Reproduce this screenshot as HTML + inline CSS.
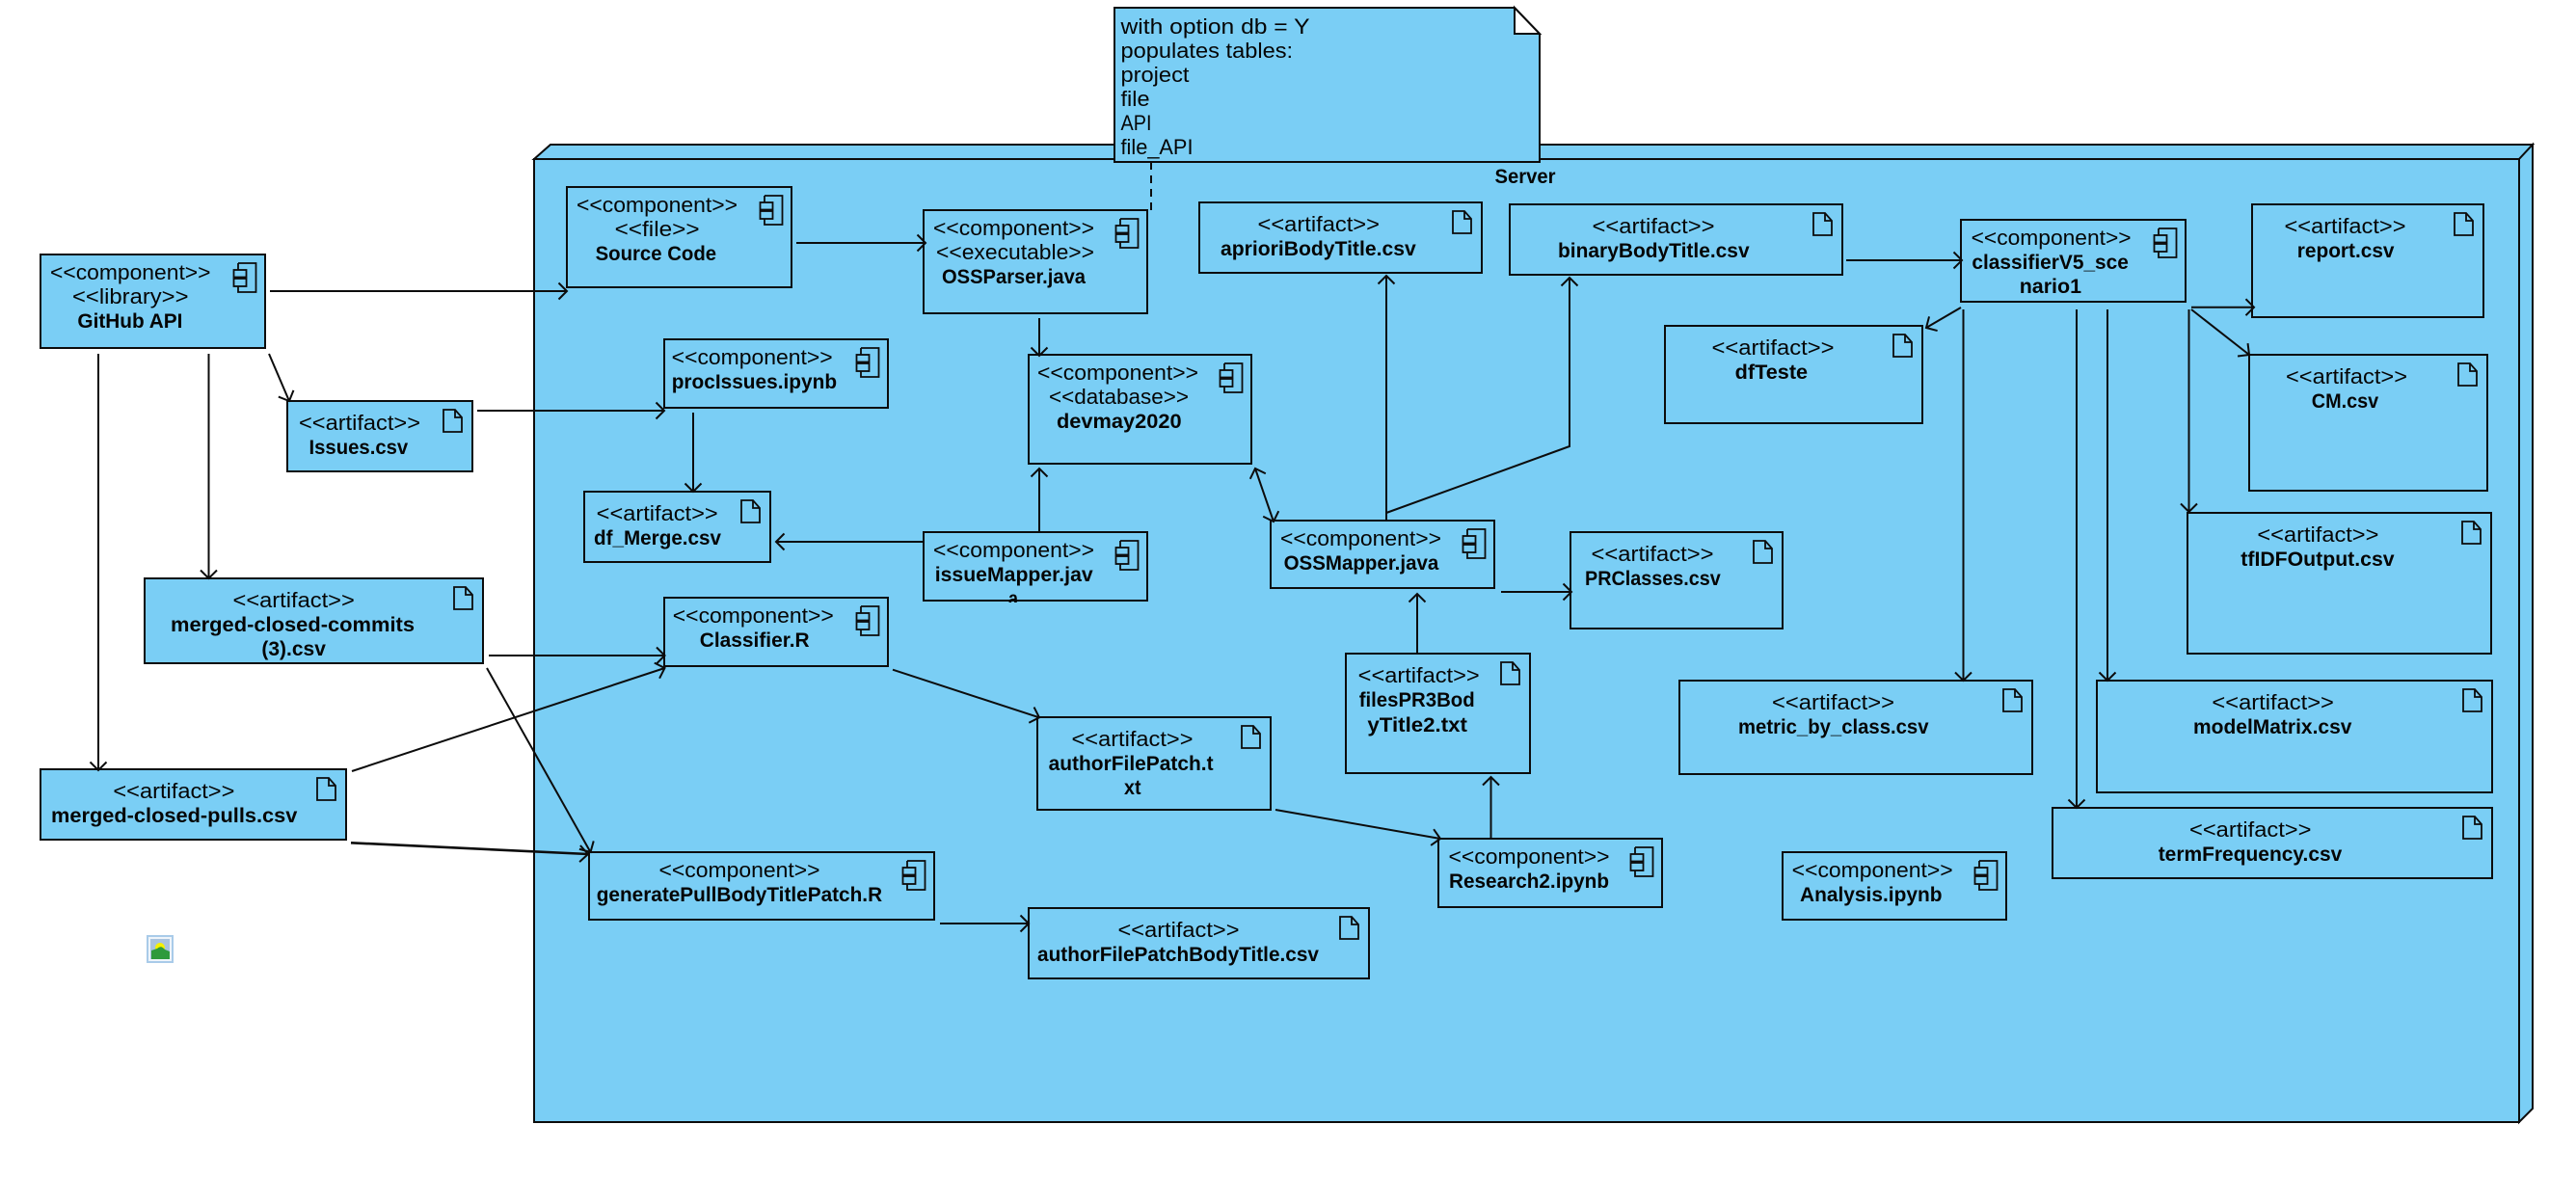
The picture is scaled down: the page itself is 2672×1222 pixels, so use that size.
<!DOCTYPE html>
<html>
<head>
<meta charset="utf-8">
<title>Deployment diagram</title>
<style>
html,body{margin:0;padding:0;background:#fff;width:2672px;height:1222px;overflow:hidden}
svg{display:block}
text{font-family:"Liberation Sans",sans-serif;font-size:22.5px;fill:#050505}
.b{font-weight:bold;font-size:21.5px}
.box{fill:#7acef5;stroke:#0c0c0c;stroke-width:2}
.ico{fill:none;stroke:#0c0c0c;stroke-width:1.8}
.l{fill:none;stroke:#0c0c0c;stroke-width:2;marker-end:url(#a)}
</style>
</head>
<body>
<svg width="2672" height="1222" viewBox="0 0 2672 1222" xmlns="http://www.w3.org/2000/svg">
<defs>
<marker id="a" markerUnits="userSpaceOnUse" markerWidth="24" markerHeight="24" refX="12" refY="12" orient="auto"><path d="M3.5 3.5L12 12L3.5 20.5" fill="none" stroke="#0c0c0c" stroke-width="2"/></marker>
<marker id="as" markerUnits="userSpaceOnUse" markerWidth="24" markerHeight="24" refX="12" refY="12" orient="auto-start-reverse"><path d="M3.5 3.5L12 12L3.5 20.5" fill="none" stroke="#0c0c0c" stroke-width="2"/></marker>
<g id="c"><path class="ico" d="M-28 9H-9.5V39H-28V33M-28 25V23M-28 16V9"/><rect class="ico" x="-32.5" y="16" width="13" height="7.5"/><rect class="ico" x="-32.5" y="25" width="13" height="8"/></g>
<g id="f"><path class="ico" d="M-30 9H-18L-11 17V32H-30ZM-18 9V17H-11"/></g>
<clipPath id="clipA"><rect x="1030" y="610" width="40" height="15"/></clipPath>
</defs>

<!-- Server node -->
<polygon class="box" points="554,165 571,150 2627,150 2613,165"/>
<polygon class="box" points="2613,165 2627,150 2627,1150 2613,1164"/>
<rect class="box" x="554" y="165" width="2059" height="999"/>
<text class="b" x="1550.5" y="190" textLength="63" lengthAdjust="spacingAndGlyphs">Server</text>

<!-- Boxes -->
<rect class="box" x="42" y="264" width="233" height="97"/><use href="#c" x="275" y="264"/>
<rect class="box" x="298" y="416" width="192" height="73"/><use href="#f" x="490" y="416"/>
<rect class="box" x="150" y="600" width="351" height="88"/><use href="#f" x="501" y="600"/>
<rect class="box" x="42" y="798" width="317" height="73"/><use href="#f" x="359" y="798"/>
<rect class="box" x="588" y="194" width="233" height="104"/><use href="#c" x="821" y="194"/>
<rect class="box" x="958" y="218" width="232" height="107"/><use href="#c" x="1190" y="218"/>
<rect class="box" x="689" y="352" width="232" height="71"/><use href="#c" x="921" y="352"/>
<rect class="box" x="1067" y="368" width="231" height="113"/><use href="#c" x="1298" y="368"/>
<rect class="box" x="606" y="510" width="193" height="73"/><use href="#f" x="799" y="510"/>
<rect class="box" x="958" y="552" width="232" height="71"/><use href="#c" x="1190" y="552"/>
<rect class="box" x="689" y="620" width="232" height="71"/><use href="#c" x="921" y="620"/>
<rect class="box" x="1318" y="540" width="232" height="70"/><use href="#c" x="1550" y="540"/>
<rect class="box" x="1629" y="552" width="220" height="100"/><use href="#f" x="1849" y="552"/>
<rect class="box" x="1396" y="678" width="191" height="124"/><use href="#f" x="1587" y="678"/>
<rect class="box" x="1742" y="706" width="366" height="97"/><use href="#f" x="2108" y="706"/>
<rect class="box" x="1492" y="870" width="232" height="71"/><use href="#c" x="1724" y="870"/>
<rect class="box" x="1849" y="884" width="232" height="70"/><use href="#c" x="2081" y="884"/>
<rect class="box" x="1076" y="744" width="242" height="96"/><use href="#f" x="1318" y="744"/>
<rect class="box" x="611" y="884" width="358" height="70"/><use href="#c" x="969" y="884"/>
<rect class="box" x="1067" y="942" width="353" height="73"/><use href="#f" x="1420" y="942"/>
<rect class="box" x="1244" y="210" width="293" height="73"/><use href="#f" x="1537" y="210"/>
<rect class="box" x="1566" y="212" width="345" height="73"/><use href="#f" x="1911" y="212"/>
<rect class="box" x="1727" y="338" width="267" height="101"/><use href="#f" x="1994" y="338"/>
<rect class="box" x="2034" y="228" width="233" height="85"/><use href="#c" x="2267" y="228"/>
<rect class="box" x="2336" y="212" width="240" height="117"/><use href="#f" x="2576" y="212"/>
<rect class="box" x="2333" y="368" width="247" height="141"/><use href="#f" x="2580" y="368"/>
<rect class="box" x="2269" y="532" width="315" height="146"/><use href="#f" x="2584" y="532"/>
<rect class="box" x="2175" y="706" width="410" height="116"/><use href="#f" x="2585" y="706"/>
<rect class="box" x="2129" y="838" width="456" height="73"/><use href="#f" x="2585" y="838"/>

<!-- Note -->
<polygon class="box" points="1156,8 1571,8 1597,35 1597,168 1156,168"/>
<polygon points="1571,8 1571,35 1597,35" fill="#fff" stroke="#0c0c0c" stroke-width="2"/>
<text x="1162.5" y="35" textLength="196" lengthAdjust="spacingAndGlyphs">with option db = Y</text>
<text x="1162.5" y="60" textLength="178.6" lengthAdjust="spacingAndGlyphs">populates tables:</text>
<text x="1162.5" y="85" textLength="71" lengthAdjust="spacingAndGlyphs">project</text>
<text x="1162.5" y="110" textLength="30" lengthAdjust="spacingAndGlyphs">file</text>
<text x="1162.5" y="135" textLength="32" lengthAdjust="spacingAndGlyphs">API</text>
<text x="1162.5" y="160" textLength="75" lengthAdjust="spacingAndGlyphs">file_API</text>
<path d="M1194 168V218" fill="none" stroke="#0c0c0c" stroke-width="2" stroke-dasharray="8 6"/>

<!-- Connectors -->
<path class="l" d="M280 302H588"/>
<path class="l" d="M279 367L300 416"/>
<path class="l" d="M102 367V799"/>
<path class="l" d="M216.5 367V600"/>
<path class="l" d="M495 426H689"/>
<path class="l" d="M826 252H960"/>
<path class="l" d="M1078 330V369"/>
<path class="l" d="M719 428V510"/>
<path class="l" d="M958 562H805"/>
<path class="l" d="M1078 552V486"/>
<path d="M1302 486L1321 541" fill="none" stroke="#0c0c0c" stroke-width="2" marker-start="url(#as)" marker-end="url(#as)"/>
<path class="l" d="M1438 540V286"/>
<path class="l" d="M1438 532L1628 463V288"/>
<path class="l" d="M1915 270H2035"/>
<path class="l" d="M2034 319L1998 340"/>
<path class="l" d="M2036.5 321V706"/>
<path class="l" d="M2154 321V838"/>
<path class="l" d="M2186 321V706"/>
<path class="l" d="M2270.5 321V531"/>
<path class="l" d="M2273 318.7H2338"/>
<path class="l" d="M2273 321L2333 368"/>
<path class="l" d="M507 680H689.5"/>
<path class="l" d="M365 800L689.5 693"/>
<path class="l" d="M505 693L612.5 884"/>
<path class="l" d="M364 874.3L610 886" style="stroke-width:2.6"/>
<path class="l" d="M926 694.7L1078 744.3"/>
<path class="l" d="M1323 840L1494 870"/>
<path class="l" d="M975 958H1067"/>
<path class="l" d="M1557 614H1630"/>
<path class="l" d="M1470 678V616"/>
<path class="l" d="M1546.5 870V806"/>

<!-- Labels -->
<text x="52" y="290" textLength="166.5" lengthAdjust="spacingAndGlyphs">&lt;&lt;component&gt;&gt;</text>
<text x="75" y="315" textLength="120.5" lengthAdjust="spacingAndGlyphs">&lt;&lt;library&gt;&gt;</text>
<text class="b" x="80.4" y="340" textLength="109" lengthAdjust="spacingAndGlyphs">GitHub API</text>

<text x="310" y="446" textLength="126" lengthAdjust="spacingAndGlyphs">&lt;&lt;artifact&gt;&gt;</text>
<text class="b" x="320.5" y="471" textLength="102.7" lengthAdjust="spacingAndGlyphs">Issues.csv</text>

<text x="241.5" y="630" textLength="126.3" lengthAdjust="spacingAndGlyphs">&lt;&lt;artifact&gt;&gt;</text>
<text class="b" x="177" y="655" textLength="253" lengthAdjust="spacingAndGlyphs">merged-closed-commits</text>
<text class="b" x="271.4" y="680" textLength="66.5" lengthAdjust="spacingAndGlyphs">(3).csv</text>

<text x="117.4" y="828" textLength="126" lengthAdjust="spacingAndGlyphs">&lt;&lt;artifact&gt;&gt;</text>
<text class="b" x="53" y="853" textLength="255.4" lengthAdjust="spacingAndGlyphs">merged-closed-pulls.csv</text>

<text x="598" y="220" textLength="167" lengthAdjust="spacingAndGlyphs">&lt;&lt;component&gt;&gt;</text>
<text x="637.6" y="245" textLength="88" lengthAdjust="spacingAndGlyphs">&lt;&lt;file&gt;&gt;</text>
<text class="b" x="617.6" y="270" textLength="125.5" lengthAdjust="spacingAndGlyphs">Source Code</text>

<text x="968" y="244" textLength="167" lengthAdjust="spacingAndGlyphs">&lt;&lt;component&gt;&gt;</text>
<text x="971" y="269" textLength="164" lengthAdjust="spacingAndGlyphs">&lt;&lt;executable&gt;&gt;</text>
<text class="b" x="977" y="294" textLength="149" lengthAdjust="spacingAndGlyphs">OSSParser.java</text>

<text x="696.7" y="378" textLength="167" lengthAdjust="spacingAndGlyphs">&lt;&lt;component&gt;&gt;</text>
<text class="b" x="696.7" y="403" textLength="171.4" lengthAdjust="spacingAndGlyphs">procIssues.ipynb</text>

<text x="1076" y="394" textLength="167" lengthAdjust="spacingAndGlyphs">&lt;&lt;component&gt;&gt;</text>
<text x="1088" y="419" textLength="145" lengthAdjust="spacingAndGlyphs">&lt;&lt;database&gt;&gt;</text>
<text class="b" x="1096" y="444" textLength="129.6" lengthAdjust="spacingAndGlyphs">devmay2020</text>

<text x="618.7" y="540" textLength="126" lengthAdjust="spacingAndGlyphs">&lt;&lt;artifact&gt;&gt;</text>
<text class="b" x="616" y="565" textLength="132" lengthAdjust="spacingAndGlyphs">df_Merge.csv</text>

<text x="968" y="578" textLength="167" lengthAdjust="spacingAndGlyphs">&lt;&lt;component&gt;&gt;</text>
<text class="b" x="969.7" y="603" textLength="164" lengthAdjust="spacingAndGlyphs">issueMapper.jav</text>
<text class="b" x="1046" y="628" textLength="10" lengthAdjust="spacingAndGlyphs" clip-path="url(#clipA)">a</text>

<text x="697.8" y="646" textLength="167" lengthAdjust="spacingAndGlyphs">&lt;&lt;component&gt;&gt;</text>
<text class="b" x="725.8" y="671" textLength="113.8" lengthAdjust="spacingAndGlyphs">Classifier.R</text>

<text x="1111.5" y="774" textLength="126" lengthAdjust="spacingAndGlyphs">&lt;&lt;artifact&gt;&gt;</text>
<text class="b" x="1087.6" y="799" textLength="171" lengthAdjust="spacingAndGlyphs">authorFilePatch.t</text>
<text class="b" x="1166" y="824" textLength="17.5" lengthAdjust="spacingAndGlyphs">xt</text>

<text x="683.5" y="910" textLength="167" lengthAdjust="spacingAndGlyphs">&lt;&lt;component&gt;&gt;</text>
<text class="b" x="618.7" y="935" textLength="296.4" lengthAdjust="spacingAndGlyphs">generatePullBodyTitlePatch.R</text>

<text x="1159.5" y="972" textLength="126" lengthAdjust="spacingAndGlyphs">&lt;&lt;artifact&gt;&gt;</text>
<text class="b" x="1076" y="997" textLength="292" lengthAdjust="spacingAndGlyphs">authorFilePatchBodyTitle.csv</text>

<text x="1304.5" y="240" textLength="126.5" lengthAdjust="spacingAndGlyphs">&lt;&lt;artifact&gt;&gt;</text>
<text class="b" x="1266" y="265" textLength="202.7" lengthAdjust="spacingAndGlyphs">aprioriBodyTitle.csv</text>

<text x="1651.5" y="242" textLength="127" lengthAdjust="spacingAndGlyphs">&lt;&lt;artifact&gt;&gt;</text>
<text class="b" x="1616" y="267" textLength="198.6" lengthAdjust="spacingAndGlyphs">binaryBodyTitle.csv</text>

<text x="1775.5" y="368" textLength="127" lengthAdjust="spacingAndGlyphs">&lt;&lt;artifact&gt;&gt;</text>
<text class="b" x="1799.7" y="393" textLength="75.4" lengthAdjust="spacingAndGlyphs">dfTeste</text>

<text x="2044.6" y="254" textLength="166" lengthAdjust="spacingAndGlyphs">&lt;&lt;component&gt;&gt;</text>
<text class="b" x="2045.4" y="279" textLength="162.5" lengthAdjust="spacingAndGlyphs">classifierV5_sce</text>
<text class="b" x="2094.7" y="304" textLength="64.3" lengthAdjust="spacingAndGlyphs">nario1</text>

<text x="2369.5" y="242" textLength="126" lengthAdjust="spacingAndGlyphs">&lt;&lt;artifact&gt;&gt;</text>
<text class="b" x="2382.8" y="267" textLength="100.7" lengthAdjust="spacingAndGlyphs">report.csv</text>

<text x="2371" y="398" textLength="126" lengthAdjust="spacingAndGlyphs">&lt;&lt;artifact&gt;&gt;</text>
<text class="b" x="2397.8" y="423" textLength="69.4" lengthAdjust="spacingAndGlyphs">CM.csv</text>

<text x="2341.4" y="562" textLength="126" lengthAdjust="spacingAndGlyphs">&lt;&lt;artifact&gt;&gt;</text>
<text class="b" x="2324.3" y="587" textLength="159.3" lengthAdjust="spacingAndGlyphs">tfIDFOutput.csv</text>

<text x="2294.4" y="736" textLength="126.5" lengthAdjust="spacingAndGlyphs">&lt;&lt;artifact&gt;&gt;</text>
<text class="b" x="2275" y="761" textLength="164.4" lengthAdjust="spacingAndGlyphs">modelMatrix.csv</text>

<text x="2271" y="868" textLength="126.5" lengthAdjust="spacingAndGlyphs">&lt;&lt;artifact&gt;&gt;</text>
<text class="b" x="2238.7" y="893" textLength="190.6" lengthAdjust="spacingAndGlyphs">termFrequency.csv</text>

<text x="1328" y="566" textLength="167" lengthAdjust="spacingAndGlyphs">&lt;&lt;component&gt;&gt;</text>
<text class="b" x="1331.6" y="591" textLength="160.7" lengthAdjust="spacingAndGlyphs">OSSMapper.java</text>

<text x="1650.5" y="582" textLength="127" lengthAdjust="spacingAndGlyphs">&lt;&lt;artifact&gt;&gt;</text>
<text class="b" x="1644" y="607" textLength="140.8" lengthAdjust="spacingAndGlyphs">PRClasses.csv</text>

<text x="1408.7" y="708" textLength="126" lengthAdjust="spacingAndGlyphs">&lt;&lt;artifact&gt;&gt;</text>
<text class="b" x="1409.7" y="733" textLength="120" lengthAdjust="spacingAndGlyphs">filesPR3Bod</text>
<text class="b" x="1418.4" y="759" textLength="103.6" lengthAdjust="spacingAndGlyphs">yTitle2.txt</text>

<text x="1838" y="736" textLength="127" lengthAdjust="spacingAndGlyphs">&lt;&lt;artifact&gt;&gt;</text>
<text class="b" x="1803" y="761" textLength="197.5" lengthAdjust="spacingAndGlyphs">metric_by_class.csv</text>

<text x="1502.5" y="896" textLength="167" lengthAdjust="spacingAndGlyphs">&lt;&lt;component&gt;&gt;</text>
<text class="b" x="1503" y="921" textLength="166" lengthAdjust="spacingAndGlyphs">Research2.ipynb</text>

<text x="1858.7" y="910" textLength="167" lengthAdjust="spacingAndGlyphs">&lt;&lt;component&gt;&gt;</text>
<text class="b" x="1867" y="935" textLength="147.5" lengthAdjust="spacingAndGlyphs">Analysis.ipynb</text>

<!-- Broken-image style icon -->
<rect x="152" y="970" width="28" height="29" fill="#a9cbe9"/>
<rect x="154" y="972" width="24" height="25" fill="#eef4fa"/>
<rect x="156" y="974" width="20" height="21" fill="#a9c3de"/>
<circle cx="166" cy="983" r="5" fill="#f5f000"/>
<path d="M157 995V986L163 984Q167 980 171 985L176 987V995Z" fill="#2e9a3c"/>
</svg>
</body>
</html>
